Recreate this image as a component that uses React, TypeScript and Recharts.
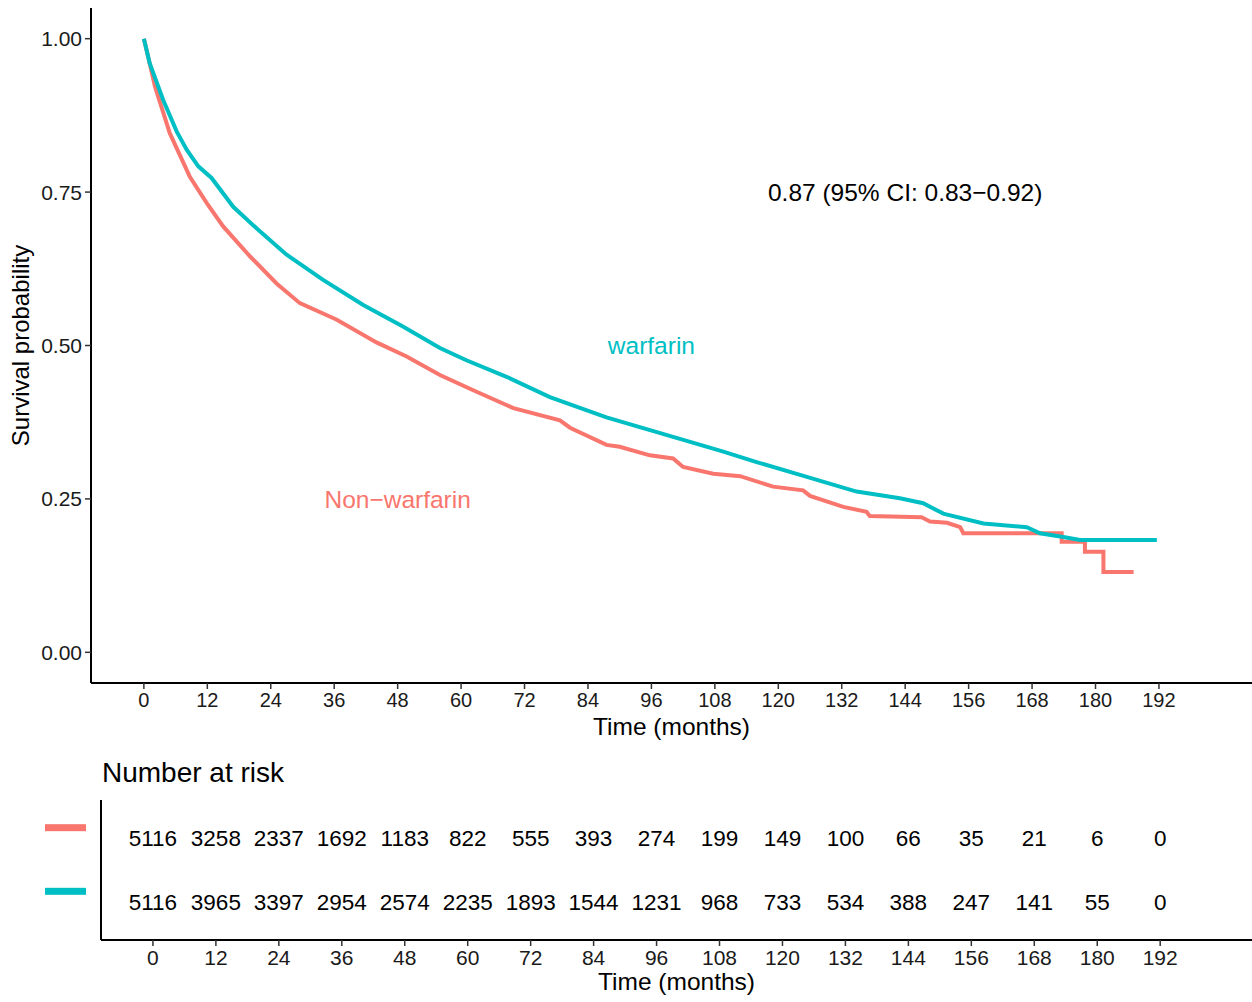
import React from 'react';
import {
  LineChart,
  Line,
  ScatterChart,
  Scatter,
  XAxis,
  YAxis,
  ReferenceDot,
} from 'recharts';

// Kaplan-Meier curves (months, survival probability)
const nonWarfarinTime = [
  0, 0.5, 2.1, 4.9, 8.7, 11.9, 15.0, 20.1, 25.1, 29.5, 36.5, 44.0, 49.7, 56.0, 62.3, 69.9,
  78.7, 80.6, 87.5, 90.0, 95.7, 100.1, 102.0, 107.7, 112.8, 119.0, 124.7, 126.0, 132.3,
  136.7, 137.3, 147.1, 148.7, 151.9, 154.4, 155.0, 173.6, 173.6, 178.0, 178.0, 181.5, 181.5,
  187.2,
];
const nonWarfarinSurv = [
  1.0, 0.982, 0.922, 0.846, 0.775, 0.732, 0.694, 0.645, 0.601, 0.569, 0.542, 0.505, 0.482,
  0.452, 0.427, 0.398, 0.378, 0.366, 0.338, 0.335, 0.321, 0.316, 0.302, 0.291, 0.287, 0.27,
  0.264, 0.255, 0.237, 0.229, 0.222, 0.22, 0.213, 0.211, 0.204, 0.194, 0.194, 0.18, 0.18,
  0.164, 0.164, 0.131, 0.131,
];

const warfarinTime = [
  0, 1.1, 3.65, 6.2, 8.1, 10.3, 12.8, 16.9, 21.3, 27.0, 33.9, 41.5, 49.0, 56.0, 61.0, 68.6,
  76.8, 87.5, 100.1, 109.6, 115.9, 125.4, 134.8, 143.0, 147.4, 151.2, 158.8, 167.0, 169.5,
  173.9, 177.1, 191.6,
];
const warfarinSurv = [
  1.0, 0.96, 0.9, 0.849, 0.819, 0.792, 0.773, 0.726, 0.691, 0.648, 0.607, 0.566, 0.531,
  0.496, 0.476, 0.449, 0.416, 0.383, 0.351, 0.327, 0.31, 0.286, 0.262, 0.251, 0.243, 0.226,
  0.21, 0.204, 0.194, 0.188, 0.183, 0.183,
];

// number at risk table
const riskTimes = [0, 12, 24, 36, 48, 60, 72, 84, 96, 108, 120, 132, 144, 156, 168, 180, 192];
const nonWarfarinRisk = [5116, 3258, 2337, 1692, 1183, 822, 555, 393, 274, 199, 149, 100, 66, 35, 21, 6, 0];
const warfarinRisk = [5116, 3965, 3397, 2954, 2574, 2235, 1893, 1544, 1231, 968, 733, 534, 388, 247, 141, 55, 0];

const yTicks = [0, 0.25, 0.5, 0.75, 1];

const RED = '#F8766D';
const TEAL = '#00BFC4';
const FONT = '"Liberation Sans", Arial, sans-serif';

const nonWarfarinData = nonWarfarinTime.map((t, i) => ({ t, s: nonWarfarinSurv[i] }));
const warfarinData = warfarinTime.map((t, i) => ({ t, s: warfarinSurv[i] }));

const riskData = [
  ...riskTimes.map((t, i) => ({ t, row: 2, n: nonWarfarinRisk[i] })),
  ...riskTimes.map((t, i) => ({ t, row: 1, n: warfarinRisk[i] })),
];

const RiskText = (props: any) => {
  const { cx, cy, payload } = props;
  return (
    <text x={cx} y={cy} dy="0.36em" textAnchor="middle" fontSize={22.5} fill="#000" fontFamily={FONT}>
      {payload.n}
    </text>
  );
};

const StrataTick = (props: any) => {
  const { y, payload } = props;
  return (
    <rect x={45} y={y - 14} width={41} height={7} fill={payload.value === 2 ? RED : TEAL} />
  );
};

export default function App() {
  const axisLine = { stroke: '#000', strokeWidth: 2 };
  const tickLine = { stroke: '#333', strokeWidth: 1.5 };

  return (
    <div
      style={{
        position: 'absolute',
        left: 0,
        top: 0,
        width: 1252,
        height: 1002,
        background: '#fff',
        fontFamily: FONT,
      }}
    >
      <div style={{ position: 'absolute', left: 0, top: 0 }}>
        <LineChart width={1252} height={745} margin={{ top: 8, right: 0, left: 0, bottom: 0 }}>
          <XAxis
            dataKey="t"
            type="number"
            domain={[-10, 209.6]}
            ticks={riskTimes}
            height={62}
            axisLine={axisLine}
            tickLine={tickLine}
            tickSize={6}
            tickMargin={4}
            tick={{ fontSize: 20, fill: '#1a1a1a', fontFamily: FONT }}
            label={{
              value: 'Time (months)',
              position: 'insideBottom',
              offset: 10,
              style: { fontSize: 24.5, fill: '#000', fontFamily: FONT },
            }}
          />
          <YAxis
            type="number"
            domain={[-0.05, 1.05]}
            ticks={yTicks}
            width={91}
            axisLine={axisLine}
            tickLine={tickLine}
            tickSize={6}
            tickMargin={3}
            tickFormatter={(v: number) => v.toFixed(2)}
            tick={{ fontSize: 21, fill: '#1a1a1a', fontFamily: FONT }}
            label={{
              value: 'Survival probability',
              angle: -90,
              position: 'insideLeft',
              offset: 20,
              style: { textAnchor: 'middle', fontSize: 24, fill: '#000', fontFamily: FONT },
            }}
          />
          <Line
            data={nonWarfarinData}
            dataKey="s"
            type="linear"
            stroke={RED}
            strokeWidth={4}
            dot={false}
            isAnimationActive={false}
          />
          <Line
            data={warfarinData}
            dataKey="s"
            type="linear"
            stroke={TEAL}
            strokeWidth={4}
            dot={false}
            isAnimationActive={false}
          />
          <ReferenceDot
            x={144}
            y={0.75}
            r={0}
            strokeWidth={0}
            label={{ value: '0.87 (95% CI: 0.83\u22120.92)', position: 'center', fontSize: 24.5, fill: '#000', fontFamily: FONT }}
          />
          <ReferenceDot
            x={96}
            y={0.5}
            r={0}
            strokeWidth={0}
            label={{ value: 'warfarin', position: 'center', fontSize: 24.5, fill: TEAL, fontFamily: FONT }}
          />
          <ReferenceDot
            x={48}
            y={0.25}
            r={0}
            strokeWidth={0}
            label={{ value: 'Non\u2212warfarin', position: 'center', fontSize: 24.5, fill: RED, fontFamily: FONT }}
          />
        </LineChart>
      </div>

      <div
        style={{
          position: 'absolute',
          left: 102,
          top: 759,
          fontSize: 28,
          lineHeight: 1,
          color: '#000',
          whiteSpace: 'nowrap',
        }}
      >
        Number at risk
      </div>

      <div style={{ position: 'absolute', left: 0, top: 790 }}>
        <ScatterChart width={1252} height={212} margin={{ top: 10, right: 0, left: 0, bottom: 0 }}>
          <XAxis
            dataKey="t"
            type="number"
            domain={[-9.9, 209.5]}
            ticks={riskTimes}
            height={62}
            axisLine={axisLine}
            tickLine={tickLine}
            tickSize={6}
            tickMargin={4}
            tick={{ fontSize: 21, fill: '#1a1a1a', fontFamily: FONT }}
            label={{
              value: 'Time (months)',
              position: 'insideBottom',
              offset: 12,
              style: { fontSize: 24.5, fill: '#000', fontFamily: FONT },
            }}
          />
          <YAxis
            dataKey="row"
            type="number"
            domain={[0.4, 2.6]}
            ticks={[1, 2]}
            width={101}
            axisLine={axisLine}
            tickLine={false}
            tick={<StrataTick />}
          />
          <Scatter data={riskData} shape={<RiskText />} isAnimationActive={false} />
        </ScatterChart>
      </div>
    </div>
  );
}
